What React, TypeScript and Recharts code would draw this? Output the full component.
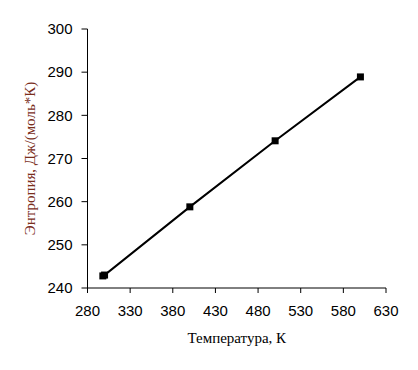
import { LineChart, Line, XAxis, YAxis, Label } from "recharts";

const temperatures = [298, 300, 400, 500, 600];
const entropy = [242.8, 243.0, 258.8, 274.1, 288.9];
const xTicks = [280, 330, 380, 430, 480, 530, 580, 630];
const yTicks = [240, 250, 260, 270, 280, 290, 300];

const data = temperatures.map((t, i) => ({ t, s: entropy[i] }));

const TICK_STYLE = { fill: "#000", fontSize: 15, fontFamily: "Liberation Sans, Arial, sans-serif" };

// filled square marker
const SquareDot = (props: any) => {
  const { cx, cy, index } = props;
  if (cx == null || cy == null) return null;
  return <rect key={index} x={cx - 3.5} y={cy - 3.5} width={7} height={7} fill="#000" />;
};

export default function App() {
  return (
    <div style={{ position: "absolute", left: 0, top: 0, background: "#fff" }}>
      <LineChart
        width={418}
        height={370}
        data={data}
        margin={{ top: 29, right: 32, left: 27.5, bottom: 52 }}
      >
        <XAxis
          type="number"
          dataKey="t"
          domain={[280, 630]}
          ticks={xTicks}
          interval={0}
          tick={TICK_STYLE}
          tickSize={5}
          tickMargin={12}
          height={30}
          stroke="#000"
          allowDataOverflow
        >
          <Label
            value="Температура, К"
            position="bottom"
            offset={14}
            style={{ fill: "#000", fontSize: 15, fontFamily: "Liberation Serif, Times New Roman, serif" }}
          />
        </XAxis>
        <YAxis
          type="number"
          domain={[240, 300]}
          ticks={yTicks}
          interval={0}
          tick={TICK_STYLE}
          tickSize={6}
          tickMargin={9}
          width={60}
          stroke="#000"
          allowDataOverflow
        >
          <Label
            value="Энтропия, Дж/(моль*К)"
            angle={-90}
            position="insideLeft"
            offset={2}
            style={{
              fill: "#7a2e1c",
              fontSize: 15,
              fontFamily: "Liberation Serif, Times New Roman, serif",
              textAnchor: "middle",
            }}
          />
        </YAxis>
        <Line
          type="linear"
          dataKey="s"
          stroke="#000"
          strokeWidth={2}
          dot={<SquareDot />}
          activeDot={false}
          isAnimationActive={false}
        />
      </LineChart>
    </div>
  );
}
